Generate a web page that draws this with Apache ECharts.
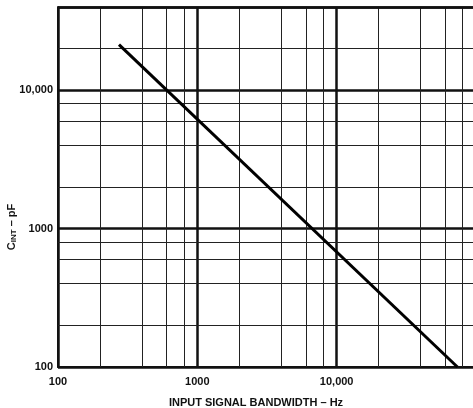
<!DOCTYPE html>
<html>
<head>
<meta charset="utf-8">
<script src="https://cdn.jsdelivr.net/npm/echarts@6/dist/echarts.min.js"></script>
<style>
  html, body { margin: 0; padding: 0; background: #fff; }
  #chart { width: 473px; height: 408px; }
</style>
</head>
<body>
<div id="chart"></div>
<script>
// bandwidth (Hz) vs integrating capacitor (pF)
var freqHz = [274, 73600];
var capPf = [21400, 100];

// minor grid lines, 2-4-6-8 in every decade
var xMinor = [200, 400, 600, 800, 2000, 4000, 6000, 8000, 20000, 40000, 60000, 80000];
var yMinor = [200, 400, 600, 800, 2000, 4000, 6000, 8000, 20000];
var yTop = 40000;

var chart = echarts.init(document.getElementById('chart'));

function fmt(v) {
    return v === 10000 ? '10,000' : String(v);
}

var gridLines = [];
xMinor.forEach(function (v) {
    gridLines.push({ xAxis: v });
});
yMinor.forEach(function (v) {
    gridLines.push({ yAxis: v });
});

var option = {
    animation: false,
    backgroundColor: '#fff',
    textStyle: { fontFamily: 'Liberation Sans, Arial, sans-serif' },
    grid: { left: 58, top: 7, right: -3, bottom: 41, containLabel: false, outerBoundsMode: 'none' },
    xAxis: {
        type: 'log',
        logBase: 10,
        min: 100,
        max: 100000,
        name: 'INPUT SIGNAL BANDWIDTH \u2013 Hz',
        nameLocation: 'middle',
        nameGap: 30,
        nameMoveOverlap: false,
        nameTextStyle: { color: '#111', fontWeight: 'bold', fontSize: 11, padding: [0, 22, 0, 0] },
        axisLine: { show: true, lineStyle: { color: '#111', width: 2 } },
        axisTick: { show: false },
        axisLabel: { color: '#111', fontWeight: 'bold', fontSize: 11, margin: 9, showMaxLabel: false, formatter: fmt },
        splitLine: { show: true, lineStyle: { color: '#111', width: 2.5 } }
    },
    yAxis: {
        type: 'log',
        logBase: 10,
        min: 100,
        max: yTop,
        name: '{c|C}{s|INT}{c| \u2013 pF}',
        nameLocation: 'middle',
        nameGap: 40,
        nameRotate: 90,
        nameMoveOverlap: false,
        nameTextStyle: {
            color: '#111',
            padding: [0, 80, 0, 0],
            rich: {
                c: { fontWeight: 'bold', fontSize: 11, color: '#111' },
                s: { fontWeight: 'bold', fontSize: 8, color: '#111', verticalAlign: 'bottom', padding: [4, 0, 0, 0] }
            }
        },
        axisLine: { show: true, lineStyle: { color: '#111', width: 2 } },
        axisTick: { show: false },
        axisLabel: { color: '#111', fontWeight: 'bold', fontSize: 11, margin: 5, showMaxLabel: false, formatter: fmt },
        splitLine: { show: true, lineStyle: { color: '#111', width: 2.5 } }
    },
    series: [
        {
            // minor grid, drawn under the curve
            type: 'line',
            data: [],
            silent: true,
            markLine: {
                silent: true,
                symbol: 'none',
                label: { show: false },
                lineStyle: { color: '#222', width: 1, type: 'solid' },
                data: gridLines.concat([
                    { yAxis: yTop, lineStyle: { color: '#111', width: 2.5, type: 'solid' } }
                ])
            }
        },
        {
            type: 'line',
            data: freqHz.map(function (f, i) { return [f, capPf[i]]; }),
            showSymbol: false,
            symbol: 'none',
            lineStyle: { color: '#000', width: 3 },
            z: 5
        }
    ]
};

chart.setOption(option);
</script>
</body>
</html>
